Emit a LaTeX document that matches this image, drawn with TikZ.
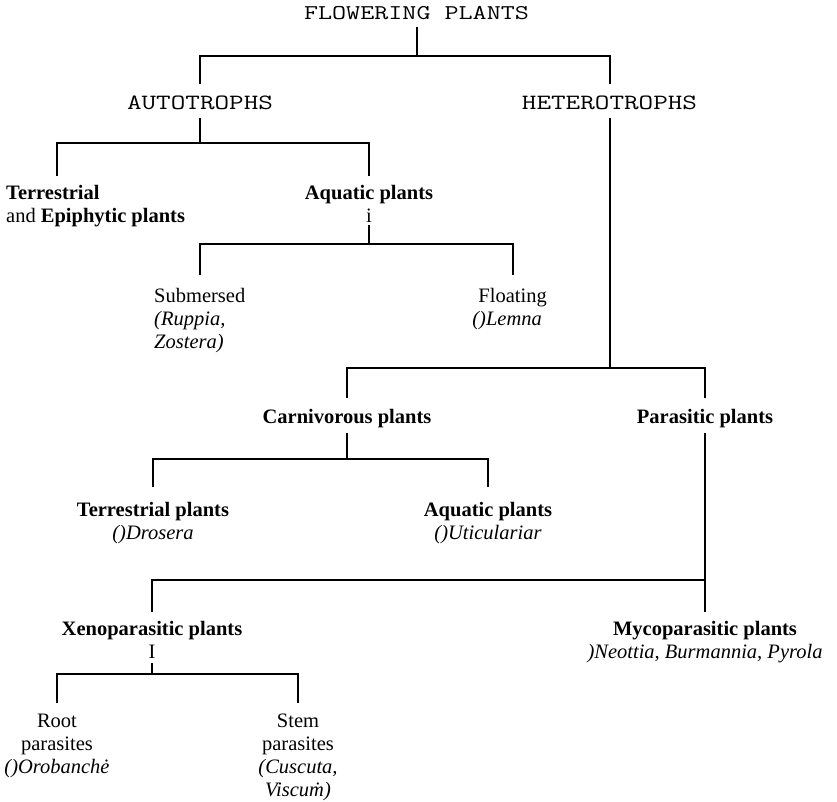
\documentclass[tikz,border=0pt]{standalone}
\usepackage{fontspec}
\setmainfont{Liberation Serif}
\newfontfamily\monofam[FakeStretch=1.3]{Latin Modern Mono}
\begin{document}
\begin{tikzpicture}[x=1pt,y=-1pt,
  branch/.style={line width=2pt, line join=miter},
  monolabel/.style={font=\monofam\fontsize{21.8}{26}\selectfont, inner sep=0pt, anchor=base, text height=26pt, text depth=8pt},
  toplabel/.style={monolabel, font=\monofam\fontsize{21}{26}\selectfont, text depth=7pt},
  boldlabel/.style={font=\bfseries\fontsize{20.5}{23}\selectfont, inner sep=0pt, anchor=base, text height=25pt, text depth=10pt},
  textlabel/.style={font=\fontsize{20.5}{23}\selectfont, inner sep=0pt},
]
\fill[white] (0,0) rectangle (837,802);
\useasboundingbox (0,0) rectangle (837,802);

% labels
\node[toplabel] (fp) at (416.5,20) {FLOWERING PLANTS};
\node[monolabel] (auto) at (200,110) {AUTOTROPHS};
\node[monolabel] (hetero) at (609.5,110) {HETEROTROPHS};
\node[textlabel, anchor=north west, align=left] (terr) at (6,182.9)
  {\strut\textbf{Terrestrial}\\and \textbf{Epiphytic plants}};
\node[textlabel, anchor=north, align=center] (aqua) at (369,182.9)
  {\strut\textbf{Aquatic plants}\\i\strut};
\node[textlabel, anchor=north west, align=left] (subm) at (154,285.9)
  {\strut Submersed\\\textit{(Ruppia,}\\\textit{Zostera)}};
\node[textlabel, anchor=north east, align=right] (float) at (547,285.9)
  {\strut Floating\\\textit{()Lemna}\hspace*{5pt}};
\node[boldlabel] (carn) at (347,423) {Carnivorous plants};
\node[boldlabel] (para) at (705,423) {Parasitic plants};
\node[textlabel, anchor=north, align=center] (tplant) at (153,499.9)
  {\strut\textbf{Terrestrial plants}\\\textit{()Drosera}};
\node[textlabel, anchor=north, align=center] (aplant) at (488,499.9)
  {\strut\textbf{Aquatic plants}\\\textit{()Uticulariar}};
\node[textlabel, anchor=north, align=center] (xeno) at (152,618.9)
  {\strut\textbf{Xenoparasitic plants}\\I\strut};
\node[textlabel, anchor=north, align=center] (myco) at (705,618.9)
  {\strut\textbf{Mycoparasitic plants}\\\textit{)Neottia, Burmannia, Pyrola}};
\node[textlabel, anchor=north, align=center] (root) at (57,710.9)
  {\strut Root\\parasites\\\textit{()Orobanch\.{e}}};
\node[textlabel, anchor=north, align=center] (stem) at (298,710.9)
  {\strut Stem\\parasites\\\textit{(Cuscuta,}\\\textit{Viscu\.{m})}};

% branching points
\coordinate (jfp) at (416.5,56);
\coordinate (jauto) at (200,143);
\coordinate (jaqua) at (369,244);
\coordinate (jhet) at (609.5,368);
\coordinate (jcarn) at (347,459);
\coordinate (jpara) at (705,580);
\coordinate (jxeno) at (152,674);

% tree branches
\draw[branch] (fp.south) -- (jfp);
\draw[branch] (auto.north) |- (jfp) -| (hetero.north);
\draw[branch] (auto.south) -- (jauto);
\draw[branch] ([xshift=51pt,yshift=7pt]terr.north west) |- (jauto) -| ([yshift=7pt]aqua.north);
\draw[branch] ([yshift=3.9pt]aqua.south) -- (jaqua);
\draw[branch] ([xshift=46pt,yshift=10.9pt]subm.north west) |- (jaqua) -| ([xshift=-34.5pt,yshift=10.9pt]float.north east);
\draw[branch] (hetero.south) -- (jhet);
\draw[branch] (carn.north) |- (jhet) -| (para.north);
\draw[branch] (carn.south) -- (jcarn);
\draw[branch] ([yshift=12.9pt]tplant.north) |- (jcarn) -| ([yshift=12.9pt]aplant.north);
\draw[branch] (para.south) -- ([yshift=6.9pt]myco.north);
\draw[branch] ([yshift=6.9pt]xeno.north) |- (jpara);
\draw[branch] ([yshift=2.4pt]xeno.south) -- (jxeno);
\draw[branch] ([yshift=7.9pt]root.north) |- (jxeno) -| ([yshift=7.9pt]stem.north);
\end{tikzpicture}
\end{document}
